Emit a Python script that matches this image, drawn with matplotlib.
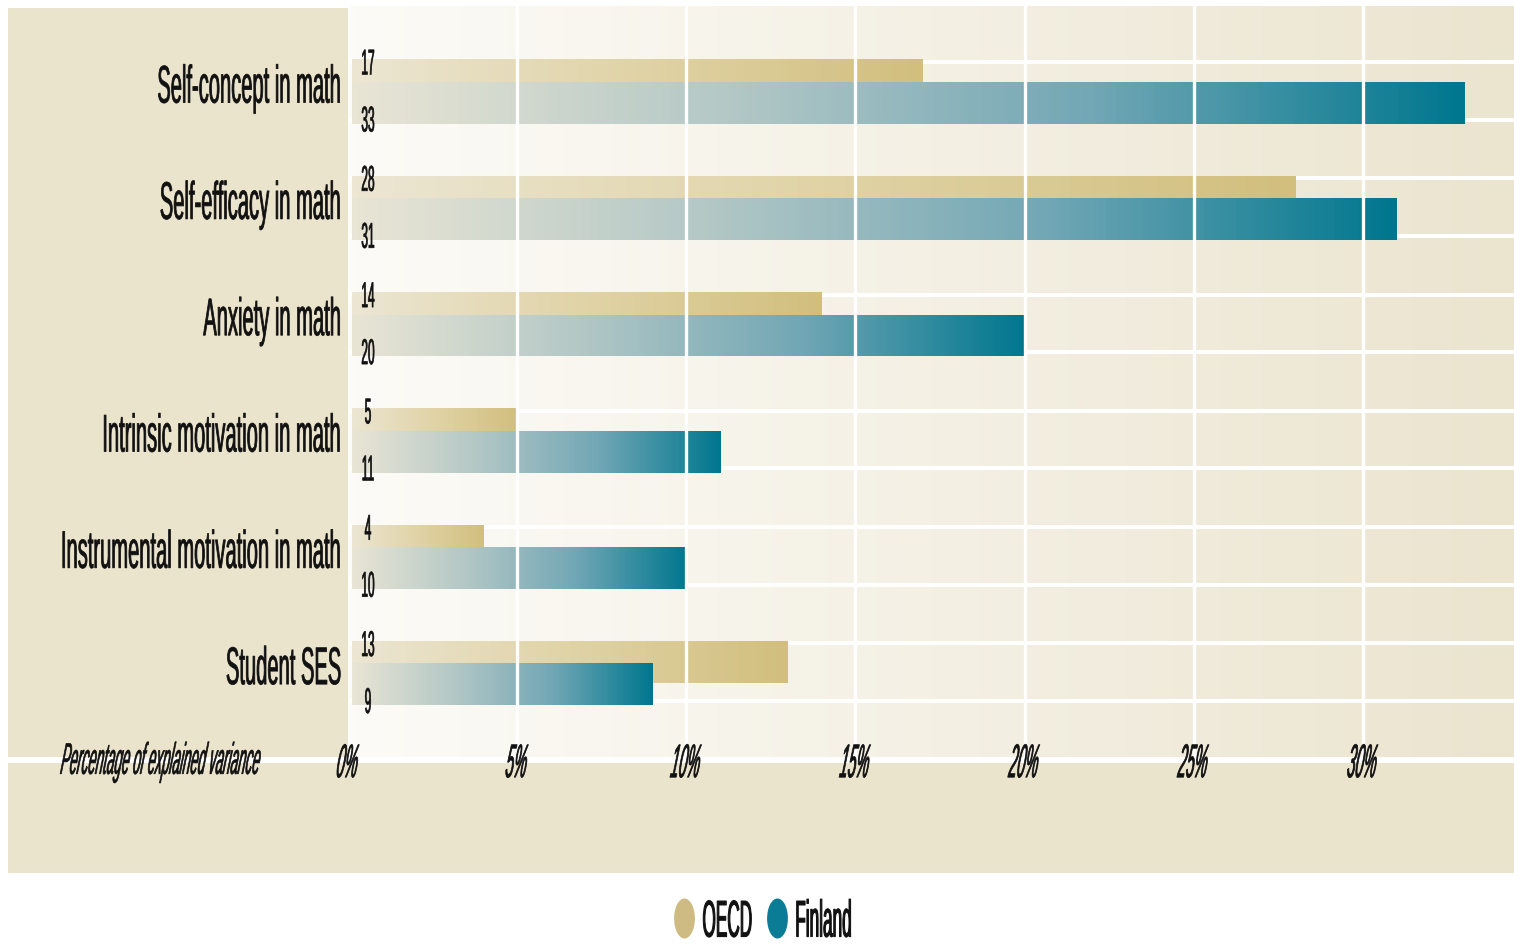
import numpy as np
import matplotlib
matplotlib.use("Agg")
import matplotlib.pyplot as plt
import matplotlib.patheffects as pe
from matplotlib.patches import Rectangle
from matplotlib.colors import LinearSegmentedColormap
from matplotlib.transforms import Affine2D
from matplotlib.path import Path
from matplotlib.lines import Line2D

# ---------------- data ----------------
CATEGORIES = ["Self-concept in math", "Self-efficacy in math", "Anxiety in math",
              "Intrinsic motivation in math", "Instrumental motivation in math",
              "Student SES"]
OECD = [17, 28, 14, 5, 4, 13]
FINLAND = [33, 31, 20, 11, 10, 9]
SERIES = ["OECD", "Finland"]
TICKS = [0, 5, 10, 15, 20, 25, 30]
TICK_LABELS = ["0%", "5%", "10%", "15%", "20%", "25%", "30%"]
XLABEL = "Percentage of explained variance"

# ---------------- style ----------------
W, H = 1514, 944
FONT = ["Liberation Sans", "DejaVu Sans"]
plt.rcParams["font.family"] = FONT
BEIGE = "#ebe4cd"
TAN = "#d2bf7e"
TEAL = "#00778f"
INK = "#111111"
XMAX = 34.47
BAR_H = 0.36
OFF = 0.097
BAR_START = 0.12
VAL_X = 0.59


class VStretch(pe.AbstractPathEffect):
    """Draw text taller (condensed look) by stretching its glyph outlines vertically,
    with optional extra slant and a thin outline to make the strokes heavier."""

    def __init__(self, sy, anchor=35.0, dy=0.0, lw=0.0, skew=0.0):
        super().__init__()
        self._sy = sy
        self._anchor = anchor
        self._dy = dy
        self._lw = lw
        self._skew = skew

    def draw_path(self, renderer, gc, tpath, affine, rgbFace=None):
        t = (Affine2D().translate(0, -self._anchor).scale(1, self._sy)
             .skew_deg(self._skew, 0).translate(0, self._anchor) + affine
             + Affine2D().translate(0, self._dy))
        if self._lw > 0 and rgbFace is not None:
            gc0 = renderer.new_gc()
            gc0.copy_properties(gc)
            gc0.set_linewidth(self._lw)
            gc0.set_foreground(rgbFace)
            gc0.set_joinstyle("round")
            renderer.draw_path(gc0, tpath, t, rgbFace)
            gc0.restore()
        else:
            renderer.draw_path(gc, tpath, t, rgbFace)


def fx(x):
    return x / W


def fy(y):
    return 1 - y / H


fig = plt.figure(figsize=(W / 100, H / 100), dpi=100)
fig.patch.set_facecolor("white")

# beige panel and white separator line
fig.add_artist(Rectangle((fx(8), fy(873)), (W - 8) / W, (873 - 8) / H,
                         transform=fig.transFigure, facecolor=BEIGE,
                         edgecolor="none", zorder=-2))
fig.add_artist(Rectangle((fx(8), fy(763)), (W - 8) / W, 6 / H,
                         transform=fig.transFigure, facecolor="white",
                         edgecolor="none", zorder=-1))

ax = fig.add_axes([fx(348), fy(757), (W - 348) / W, (757 - 6) / H])
ax.patch.set_facecolor("none")
for s in ax.spines.values():
    s.set_visible(False)

# background gradient of plot area
bg_cmap = LinearSegmentedColormap.from_list("bg", ["#fcfbf7", "#f4f0e4", "#ebe4cf"])
ax.imshow(np.linspace(0, 1, 256)[None, :], cmap=bg_cmap, extent=(0, 1, 0, 1),
          transform=ax.transAxes, aspect="auto", zorder=0, interpolation="bilinear")

rows = np.arange(len(CATEGORIES))

# horizontal white bands
for y in rows:
    ax.axhline(y - 0.255, color="white", lw=2.9, zorder=1)
    ax.axhline(y + 0.24, color="white", lw=2.9, zorder=1)

oecd_cmap = LinearSegmentedColormap.from_list("oecd", ["#ece6d3", "#e0d3a6", TAN])
fin_cmap = LinearSegmentedColormap.from_list("fin", ["#e9e5d5", "#b4c8c6", "#72a7b5", TEAL])

b_oecd = ax.barh(rows - OFF, np.array(OECD) - BAR_START, left=BAR_START, height=BAR_H,
                 color="none", edgecolor="none", zorder=2)
b_fin = ax.barh(rows + OFF, np.array(FINLAND) - BAR_START, left=BAR_START, height=BAR_H,
                color="none", edgecolor="none", zorder=3)

grad = np.linspace(0, 1, 256)[None, :]
for bars, cmap, z in ((b_oecd, oecd_cmap, 2), (b_fin, fin_cmap, 3)):
    for r in bars:
        x0, y0, w, h = r.get_x(), r.get_y(), r.get_width(), r.get_height()
        im = ax.imshow(grad, cmap=cmap, extent=(x0, x0 + w, y0, y0 + h),
                       aspect="auto", zorder=z, interpolation="bilinear")
        im.set_clip_path(r)

# vertical white gridlines drawn over bars
for t in TICKS:
    ax.axvline(t, color="white", lw=2.4, zorder=4)

# value labels
for i, (o, f) in enumerate(zip(OECD, FINLAND)):
    ax.text(VAL_X, i - 0.245, str(o), ha="center", va="center", fontsize=8.6,
            color=INK, zorder=6, path_effects=[VStretch(3.0, lw=0.5)])
    ax.text(VAL_X, i + 0.245, str(f), ha="center", va="center", fontsize=8.6,
            color=INK, zorder=6, path_effects=[VStretch(3.0, lw=0.5)])

ax.set_xlim(0, XMAX)
ax.set_ylim(5.721, -0.736)

# x ticks (drawn above the gridlines)
ax.xaxis.set_zorder(8)
ax.yaxis.set_zorder(8)
ax.set_xticks(TICKS, TICK_LABELS)
ax.tick_params(axis="x", length=0, pad=3.4, labelsize=10.4, colors=INK)
for lab in ax.get_xticklabels():
    lab.set_fontstyle("italic")
    lab.set_va("center")
    lab.set_path_effects([VStretch(3.27, lw=0.55, skew=8)])

# y ticks (categories)
ax.set_yticks(rows, CATEGORIES)
ax.tick_params(axis="y", length=0, pad=5, labelsize=14.5, colors=INK)
for lab in ax.get_yticklabels():
    lab.set_va("center")
    lab.set_path_effects([VStretch(2.63, dy=6, lw=0.55)])

fig.text(fx(262), fy(760), XLABEL, ha="right", va="center", fontsize=9.65,
         style="italic", color=INK, path_effects=[VStretch(3.3, lw=0.5, skew=8)])

# legend
ellipse = Path.unit_circle().transformed(Affine2D().scale(0.52, 1.0))
handles = [Line2D([], [], ls="none", marker=ellipse, markersize=28.8,
                  markerfacecolor=c, markeredgecolor="none")
           for c in ("#cdbb82", "#0a7c96")]
leg = fig.legend(handles, SERIES, ncol=2, loc="center",
                 bbox_to_anchor=(fx(764), fy(920)), frameon=False, fontsize=12.4,
                 handlelength=1.0, handletextpad=0.55, columnspacing=0.95,
                 borderpad=0)
for t in leg.get_texts():
    t.set_color(INK)
    t.set_path_effects([VStretch(3.0, lw=0.75)])

fig.savefig("out.png", dpi=100, facecolor="white")
